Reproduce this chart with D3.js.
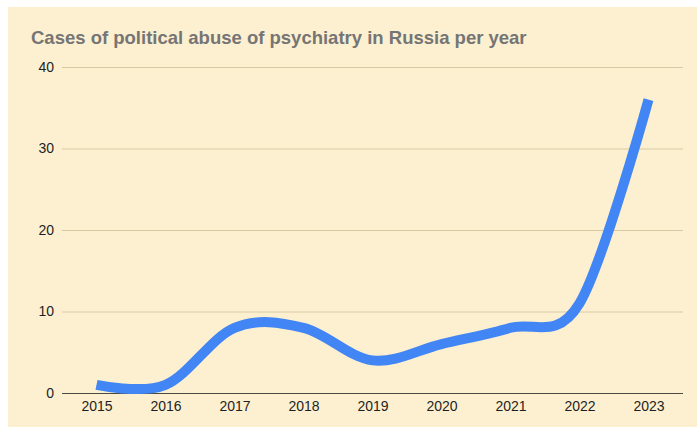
<!DOCTYPE html>
<html>
<head>
<meta charset="utf-8">
<script src="https://cdn.jsdelivr.net/npm/d3@7"></script>
<style>
  html, body { margin: 0; padding: 0; background: #ffffff; }
  svg { display: block; }
</style>
</head>
<body>
<svg id="chart" width="697" height="429"></svg>
<script>
const years = ["2015","2016","2017","2018","2019","2020","2021","2022","2023"];
const cases = [1, 1, 8, 8, 4, 6, 8, 11, 36];
const yTicks = [0, 10, 20, 30, 40];
const title = "Cases of political abuse of psychiatry in Russia per year";

const svg = d3.select("#chart");
const W = 697, H = 429;
const margin = {left: 62, right: 14, top: 67, bottom: 36};

svg.append("rect").attr("x", 8).attr("y", 7).attr("width", W - 8).attr("height", 420)
  .attr("fill", "#fdf0d0");

const x = d3.scalePoint().domain(years).range([margin.left, W - margin.right]).padding(0.5);
const y = d3.scaleLinear().domain([0, 40]).range([393, 67]);

// gridlines
const yAxis = d3.axisLeft(y).tickValues(yTicks).tickSize(-(W - margin.right - margin.left)).tickPadding(8);
const gy = svg.append("g").attr("transform", `translate(${margin.left},0)`).call(yAxis);
gy.select(".domain").remove();
gy.selectAll(".tick line").attr("stroke", "#d8c9a4").attr("stroke-width", 1);
gy.selectAll(".tick text").attr("font-family", "'Liberation Sans', Arial, sans-serif")
  .attr("font-size", 14).attr("fill", "#1f1f1f").attr("x", -8);

// baseline
const xAxis = d3.axisBottom(x).tickSize(0).tickPadding(8);
const gx = svg.append("g").attr("transform", `translate(0,${y(0)})`).call(xAxis);
gx.select(".domain").attr("stroke", "#4a4a44").attr("stroke-width", 1)
  .attr("d", `M${margin.left},0.5H${W - margin.right}`);
gx.selectAll(".tick text").attr("font-family", "'Liberation Sans', Arial, sans-serif")
  .attr("font-size", 14).attr("fill", "#1f1f1f");

// line
const line = d3.line()
  .x((d, i) => x(years[i]))
  .y(d => y(d))
  .curve(d3.curveCardinal.tension(0));
svg.append("path").datum(cases).attr("d", line)
  .attr("fill", "none").attr("stroke", "#4285f4").attr("stroke-width", 10)
  .attr("stroke-linejoin", "round");

// title
svg.append("text").attr("x", 31).attr("y", 44)
  .attr("font-family", "'Liberation Sans', Arial, sans-serif")
  .attr("font-weight", "bold").attr("font-size", 18.5).attr("fill", "#757575")
  .text(title);
</script>
</body>
</html>
